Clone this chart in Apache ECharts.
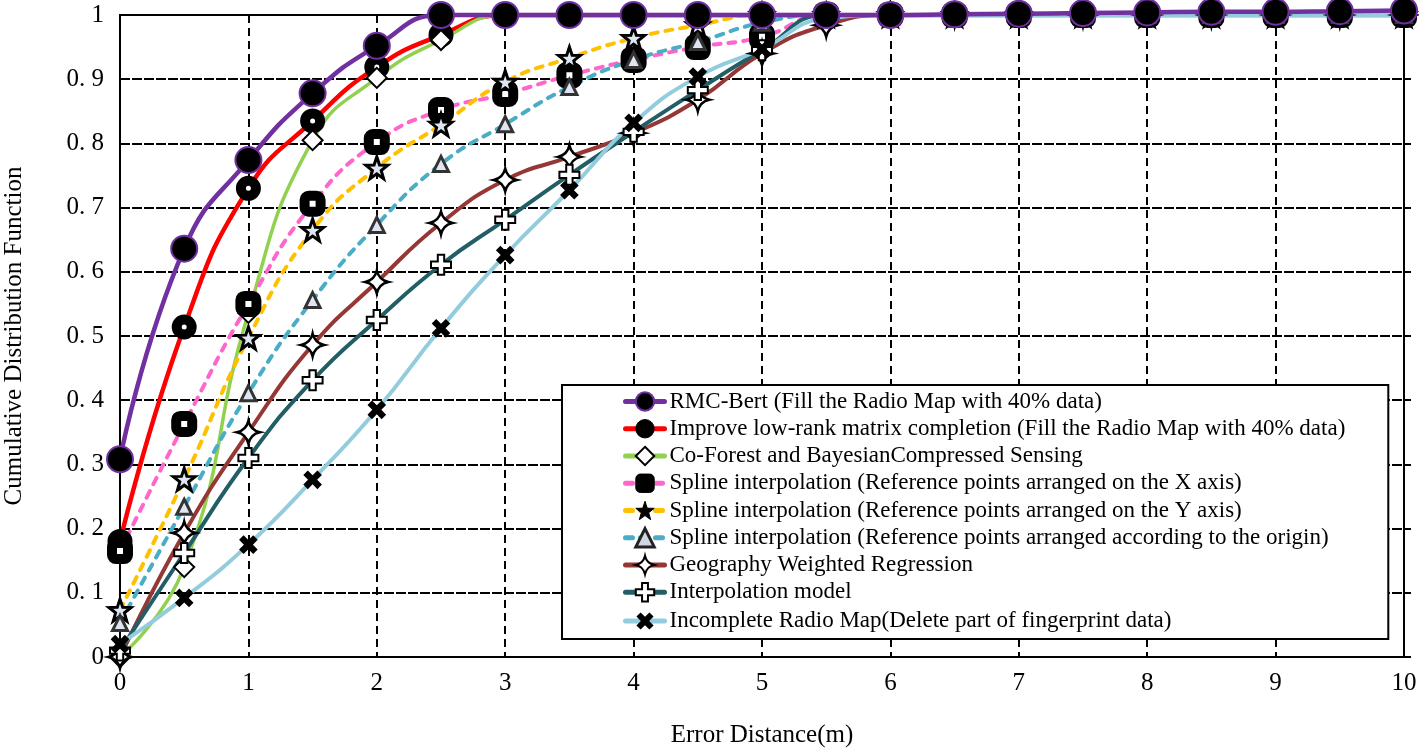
<!DOCTYPE html>
<html><head><meta charset="utf-8">
<script src="https://cdn.jsdelivr.net/npm/echarts@6/dist/echarts.min.js"></script>
<style>html,body{margin:0;padding:0;background:#fff}#c{width:1419px;height:749px}</style>
</head><body><div id="c"></div>
<script>
const xValues = [0,0.5,1,1.5,2,2.5,3,3.5,4,4.5,5,5.5,6,6.5,7,7.5,8,8.5,9,9.5,10];
const yTickLabels = ['0','0. 1','0. 2','0. 3','0. 4','0. 5','0. 6','0. 7','0. 8','0. 9','1'];
const seriesNames = [
  'RMC-Bert (Fill the Radio Map with 40% data)',
  'Improve low-rank matrix completion (Fill the Radio Map with 40% data)',
  'Co-Forest and BayesianCompressed Sensing',
  'Spline interpolation (Reference points arranged on the X axis)',
  'Spline interpolation (Reference points arranged on the Y axis)',
  'Spline interpolation (Reference points arranged according to the origin)',
  'Geography Weighted Regression',
  'Interpolation model',
  'Incomplete Radio Map(Delete part of fingerprint data)'
];
const rmcBert      = [0.308,0.636,0.774,0.878,0.952,1.0,1.0,1.0,1.0,1.0,1.0,1.0,1.0,1.001,1.002,1.003,1.004,1.005,1.005,1.006,1.007];
const lowRank      = [0.18,0.514,0.730,0.835,0.919,0.969,1,1,1,1,1,1,1,1,1,1,1,1,1,1,1];
const coForest     = [0.0,0.140,0.536,0.805,0.902,0.961,1,1,1,1,1,1,1,1,1,1,1,1,1,1,1];
const splineX      = [0.165,0.363,0.550,0.706,0.802,0.852,0.877,0.906,0.930,0.950,0.966,1,1,1,1,1,1,1,1,1,1];
const splineY      = [0.073,0.277,0.497,0.665,0.762,0.829,0.896,0.933,0.964,0.984,1,1,1,1,1,1,1,1,1,1,1];
const splineOrigin = [0.053,0.234,0.411,0.556,0.673,0.768,0.830,0.888,0.930,0.958,0.988,1,1,1,1,1,1,1,1,1,1];
const gwr          = [0.0,0.193,0.350,0.486,0.584,0.676,0.743,0.779,0.816,0.868,0.940,0.984,1,1,1,1,1,1,1,1,1];
const interpModel  = [0.01,0.162,0.310,0.431,0.525,0.611,0.681,0.751,0.818,0.883,0.945,1,1,1,1,1,1,1,1,1,1];
const incomplete   = [0.02,0.092,0.175,0.276,0.385,0.512,0.626,0.727,0.832,0.904,0.947,0.995,1,1,1,1,1,1,1,1,1];

const FONT = "'Liberation Serif','Times New Roman',serif";
const STAR = 'path://M0,-10 L2.35,-3.24 L9.51,-3.09 L3.8,1.24 L5.88,8.09 L0,4 L-5.88,8.09 L-3.8,1.24 L-9.51,-3.09 L-2.35,-3.24 Z';
const STAR4 = 'path://M0,-10 Q1.8,-1.8 10,0 Q1.8,1.8 0,10 Q-1.8,1.8 -10,0 Q-1.8,-1.8 0,-10 Z';
const PLUS = 'path://M-3.2,-10 L3.2,-10 L3.2,-3.2 L10,-3.2 L10,3.2 L3.2,3.2 L3.2,10 L-3.2,10 L-3.2,3.2 L-10,3.2 L-10,-3.2 L-3.2,-3.2 Z';

function mk(name, vals, color, o) {
  return {
    name: name, type: 'line', smooth: true, animation: false,
    data: xValues.map((x, i) => [x, vals[i]]),
    symbol: o.symbol, symbolSize: o.size, symbolRotate: o.rotate || 0,
    showAllSymbol: true,
    itemStyle: o.item,
    lineStyle: { color: color, width: o.width || 4, type: o.dash || 'solid', cap: 'round' },
    z: o.z || 2, clip: o.clip === undefined ? true : o.clip,
    emphasis: { disabled: true }
  };
}

const series = [
  mk(seriesNames[0], rmcBert, '#7030A0', { symbol: 'circle', size: 26, item: { color: '#000', borderColor: '#7030A0', borderWidth: 2 }, z: 4, width: 4.5, clip: false }),
  mk(seriesNames[1], lowRank, '#FF0000', { symbol: 'circle', size: 15, item: { color: '#fff', borderColor: '#000', borderWidth: 10 }, width: 4.5 }),
  mk(seriesNames[2], coForest, '#92D050', { symbol: 'diamond', size: 20, item: { color: '#fff', borderColor: '#000', borderWidth: 2 }, width: 3.5 }),
  mk(seriesNames[3], splineX, '#FF66CC', { symbol: 'roundRect', size: 16, item: { color: '#fff', borderColor: '#000', borderWidth: 10 }, dash: [7, 8] }),
  mk(seriesNames[4], splineY, '#FFC000', { symbol: STAR, size: 22, item: { color: '#dfe6f2', borderColor: '#000', borderWidth: 3 }, dash: [7, 8] }),
  mk(seriesNames[5], splineOrigin, '#4BACC6', { symbol: 'triangle', size: 15, item: { color: '#dfe6f2', borderColor: '#333', borderWidth: 3 }, dash: [7, 8] }),
  mk(seriesNames[6], gwr, '#953735', { symbol: STAR4, size: 23, item: { color: '#fff', borderColor: '#000', borderWidth: 2.5 } }),
  mk(seriesNames[7], interpModel, '#215E66', { symbol: PLUS, size: 20, item: { color: '#fff', borderColor: '#000', borderWidth: 2 } }),
  mk(seriesNames[8], incomplete, '#93CDDD', { symbol: PLUS, size: 20, rotate: 45, item: { color: '#000' } })
];

const legendItemStyles = [
  { color: '#000', borderColor: '#7030A0', borderWidth: 2 },
  { color: '#000', borderColor: '#000', borderWidth: 1 },
  { color: '#fff', borderColor: '#000', borderWidth: 2 },
  { color: '#000', borderColor: '#000', borderWidth: 1 },
  { color: '#000', borderColor: '#000', borderWidth: 1 },
  { color: '#cfd6e2', borderColor: '#222', borderWidth: 3 },
  { color: '#fff', borderColor: '#000', borderWidth: 2 },
  { color: '#fff', borderColor: '#000', borderWidth: 2 },
  { color: '#000', borderColor: '#000', borderWidth: 0 }
];

const chart = echarts.init(document.getElementById('c'), null, { renderer: 'canvas' });
chart.setOption({
  animation: false,
  backgroundColor: '#fff',
  grid: { left: 120, right: 15, top: 15, bottom: 92, show: true, borderColor: '#000', borderWidth: 2,
          backgroundColor: 'transparent', outerBoundsMode: 'none', containLabel: false },
  legend: {
    orient: 'vertical', left: 562, top: 385,
    padding: [5, 43, 5, 61],
    itemWidth: 39, itemHeight: 23, itemGap: 4.25,
    backgroundColor: '#fff', borderColor: '#000', borderWidth: 2,
    textStyle: { fontFamily: FONT, fontSize: 23, color: '#000' },
    lineStyle: { width: 5 },
    data: seriesNames.map((n, i) => ({ name: n, itemStyle: legendItemStyles[i] }))
  },
  xAxis: {
    type: 'value', min: 0, max: 10, interval: 1,
    name: 'Error Distance(m)', nameLocation: 'middle', nameGap: 66,
    nameTextStyle: { fontFamily: FONT, fontSize: 25, color: '#000' },
    axisLine: { show: true, lineStyle: { color: '#000', width: 2 } },
    axisTick: { show: false },
    axisLabel: { fontFamily: FONT, fontSize: 25, color: '#000', margin: 14 },
    splitLine: { show: true, lineStyle: { color: '#000', width: 2, type: [8, 5] } }
  },
  yAxis: [{
    type: 'value', min: 0, max: 1, interval: 0.1,
    name: 'Cumulative Distribution Function', nameLocation: 'middle', nameGap: 93,
    nameTextStyle: { fontFamily: FONT, fontSize: 25, color: '#000' },
    axisLine: { show: true, lineStyle: { color: '#000', width: 2 } },
    axisTick: { show: false },
    axisLabel: { fontFamily: FONT, fontSize: 25, color: '#000', margin: 16,
      formatter: v => yTickLabels[Math.round(v * 10)] },
    splitLine: { show: true, lineStyle: { color: '#000', width: 2, type: [10, 2] } }
  }, {
    type: 'value', min: 0, max: 1, interval: 0.1, position: 'right',
    axisLine: { show: true, lineStyle: { color: '#000', width: 2 } },
    axisTick: { show: true, length: 7, lineStyle: { color: '#000', width: 2 } },
    axisLabel: { show: false }, splitLine: { show: false }
  }],
  series: series
});
</script>
</body></html>
